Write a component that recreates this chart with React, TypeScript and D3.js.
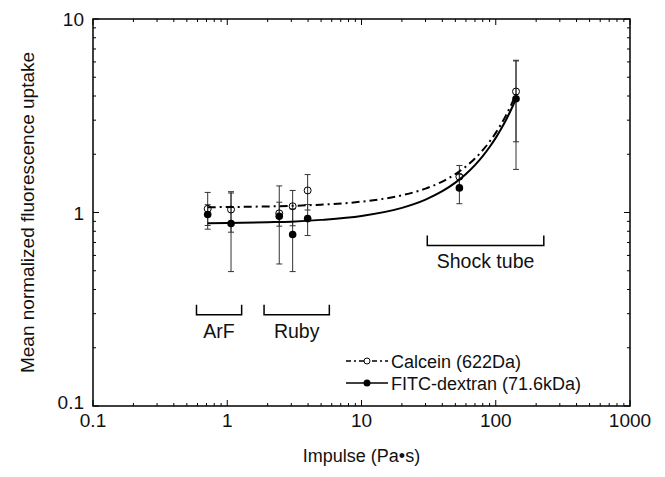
import React from 'react';
import * as d3 from 'd3';

const W = 665;
const H = 477;
const PLOT = { left: 93, right: 630, top: 19, bottom: 406 };
const FONT = 'Liberation Sans, Arial, Helvetica, sans-serif';

// Data points (impulse in Pa·s)
const impulse = [0.715, 1.067, 2.44, 3.07, 3.97, 53.6, 141.6];
const calceinMean = [1.045, 1.036, 0.99, 1.077, 1.3, 1.53, 4.22];
const calceinSD = [0.225, 0.245, 0.14, 0.223, 0.27, 0.22, 1.9];
const fitcMean = [0.977, 0.878, 0.957, 0.77, 0.93, 1.34, 3.87];
const fitcSD = [0.12, 0.383, 0.415, 0.275, 0.17, 0.23, 2.2];

// Fitted curves
const fitX = [0.715, 1, 2, 3, 5, 10, 20, 30, 40, 50, 60, 70, 80, 90, 100, 110, 120, 130, 141.6];
const calceinFit = [1.065, 1.067, 1.075, 1.082, 1.098, 1.138, 1.227, 1.329, 1.445, 1.578, 1.729, 1.9, 2.099, 2.324, 2.58, 2.873, 3.206, 3.587, 4.096];
const fitcFit = [0.881, 0.883, 0.891, 0.897, 0.916, 0.96, 1.057, 1.166, 1.288, 1.427, 1.582, 1.758, 1.956, 2.18, 2.43, 2.716, 3.036, 3.397, 3.87];

// Laser / shock tube ranges
const groupNames = ['ArF', 'Ruby', 'Shock tube'];
const groupStart = [0.59, 1.88, 30.9];
const groupEnd = [1.28, 5.76, 228];
const groupLevel = [0.296, 0.296, 0.676];

const xTickValues = [0.1, 1, 10, 100, 1000];
const xTickLabels = ['0.1', '1', '10', '100', '1000'];
const yTickValues = [0.1, 1, 10];
const yTickLabels = ['0.1', '1', '10'];

const seriesNames = ['Calcein (622Da)', 'FITC-dextran (71.6kDa)'];

export default function App() {
  const x = d3.scaleLog().domain([0.1, 1000]).range([PLOT.left, PLOT.right]);
  const y = d3.scaleLog().domain([0.1, 10]).range([PLOT.bottom, PLOT.top]);

  const minorX: number[] = [];
  for (let e = -1; e < 3; e++) for (let m = 2; m <= 9; m++) minorX.push(m * Math.pow(10, e));
  const minorY: number[] = [];
  for (let e = -1; e < 1; e++) for (let m = 2; m <= 9; m++) minorY.push(m * Math.pow(10, e));

  const line = d3
    .line<[number, number]>()
    .x((d) => x(d[0]))
    .y((d) => y(d[1]))
    .curve(d3.curveMonotoneX);

  const calceinPath = line(fitX.map((v, i) => [v, calceinFit[i]]) as [number, number][]) || '';
  const fitcPath = line(fitX.map((v, i) => [v, fitcFit[i]]) as [number, number][]) || '';

  const cap = 3;
  const errBars = (means: number[], sds: number[], key: string) =>
    impulse.map((v, i) => {
      const px = x(v);
      const lo = y(means[i] - sds[i]);
      const hi = y(means[i] + sds[i]);
      return (
        <g key={key + i} stroke="#333" strokeWidth={1}>
          <line x1={px} x2={px} y1={lo} y2={hi} />
          <line x1={px - cap} x2={px + cap} y1={lo} y2={lo} />
          <line x1={px - cap} x2={px + cap} y1={hi} y2={hi} />
        </g>
      );
    });

  const majMinor = 3;
  const majLen = 6;

  const legendX1 = 346;
  const legendX2 = 388;
  const legendRows = [361, 383];

  return (
    <svg
      width={W}
      height={H}
      viewBox={`0 0 ${W} ${H}`}
      style={{ position: 'absolute', left: 0, top: 0, background: '#fff' }}
      fontFamily={FONT}
    >
      <rect x={0} y={0} width={W} height={H} fill="#fff" />

      {/* error bars */}
      {errBars(calceinMean, calceinSD, 'c')}
      {errBars(fitcMean, fitcSD, 'f')}

      {/* fitted curves */}
      <path d={calceinPath} fill="none" stroke="#000" strokeWidth={2} strokeDasharray="8,4,2,4" />
      <path d={fitcPath} fill="none" stroke="#000" strokeWidth={2} />

      {/* markers */}
      {impulse.map((v, i) => (
        <circle key={'cm' + i} cx={x(v)} cy={y(calceinMean[i])} r={3.5} fill="none" stroke="#000" strokeWidth={1} />
      ))}
      {impulse.map((v, i) => (
        <circle key={'fm' + i} cx={x(v)} cy={y(fitcMean[i])} r={3.8} fill="#000" />
      ))}

      {/* frame */}
      <rect
        x={PLOT.left}
        y={PLOT.top}
        width={PLOT.right - PLOT.left}
        height={PLOT.bottom - PLOT.top}
        fill="none"
        stroke="#000"
        strokeWidth={1.5}
      />

      {/* ticks (inward on all sides) */}
      <g stroke="#000" strokeWidth={1}>
        {xTickValues.map((v) => (
          <g key={'xt' + v}>
            <line x1={x(v)} x2={x(v)} y1={PLOT.bottom} y2={PLOT.bottom - majLen} />
            <line x1={x(v)} x2={x(v)} y1={PLOT.top} y2={PLOT.top + majLen} />
          </g>
        ))}
        {minorX.map((v) => (
          <g key={'xm' + v}>
            <line x1={x(v)} x2={x(v)} y1={PLOT.bottom} y2={PLOT.bottom - majMinor} />
            <line x1={x(v)} x2={x(v)} y1={PLOT.top} y2={PLOT.top + majMinor} />
          </g>
        ))}
        {yTickValues.map((v) => (
          <g key={'yt' + v}>
            <line x1={PLOT.left} x2={PLOT.left + majLen} y1={y(v)} y2={y(v)} />
            <line x1={PLOT.right} x2={PLOT.right - majLen} y1={y(v)} y2={y(v)} />
          </g>
        ))}
        {minorY.map((v) => (
          <g key={'ym' + v}>
            <line x1={PLOT.left} x2={PLOT.left + majMinor} y1={y(v)} y2={y(v)} />
            <line x1={PLOT.right} x2={PLOT.right - majMinor} y1={y(v)} y2={y(v)} />
          </g>
        ))}
      </g>

      {/* tick labels */}
      {xTickValues.map((v, i) => (
        <text key={'xl' + v} x={x(v)} y={PLOT.bottom + 21} textAnchor="middle" fontSize={19} fill="#111">
          {xTickLabels[i]}
        </text>
      ))}
      {yTickValues.map((v, i) => (
        <text
          key={'yl' + v}
          x={PLOT.left - 9}
          y={y(v) + (i === 0 ? 3 : 7)}
          textAnchor="end"
          fontSize={19}
          fill="#111"
        >
          {yTickLabels[i]}
        </text>
      ))}

      {/* axis titles */}
      <text x={(PLOT.left + PLOT.right) / 2} y={462} textAnchor="middle" fontSize={18} fill="#111">
        Impulse (Pa•s)
      </text>
      <text
        transform={`translate(34, ${(PLOT.top + PLOT.bottom) / 2}) rotate(-90)`}
        textAnchor="middle"
        fontSize={19}
        fill="#111"
      >
        Mean normalized fluorescence uptake
      </text>

      {/* group brackets */}
      {groupNames.map((name, i) => {
        const x1 = x(groupStart[i]);
        const x2 = x(groupEnd[i]);
        const yb = y(groupLevel[i]);
        return (
          <g key={'g' + i}>
            <path
              d={`M${x1},${yb - 10}V${yb}H${x2}V${yb - 10}`}
              fill="none"
              stroke="#000"
              strokeWidth={1.5}
            />
            <text x={(x1 + x2) / 2} y={yb + 23} textAnchor="middle" fontSize={19.5} fill="#111">
              {name}
            </text>
          </g>
        );
      })}

      {/* legend */}
      <g>
        <line x1={legendX1} x2={legendX2} y1={legendRows[0]} y2={legendRows[0]} stroke="#000" strokeWidth={1.3} strokeDasharray="5,3,2,3" />
        <circle cx={(legendX1 + legendX2) / 2} cy={legendRows[0]} r={3} fill="#fff" stroke="#000" strokeWidth={1} />
        <text x={391} y={legendRows[0] + 6.5} fontSize={18} fill="#111">
          {seriesNames[0]}
        </text>
        <line x1={legendX1} x2={legendX2} y1={legendRows[1]} y2={legendRows[1]} stroke="#000" strokeWidth={1.5} />
        <circle cx={(legendX1 + legendX2) / 2} cy={legendRows[1]} r={3.5} fill="#000" />
        <text x={391} y={legendRows[1] + 6.5} fontSize={18} fill="#111">
          {seriesNames[1]}
        </text>
      </g>
    </svg>
  );
}
